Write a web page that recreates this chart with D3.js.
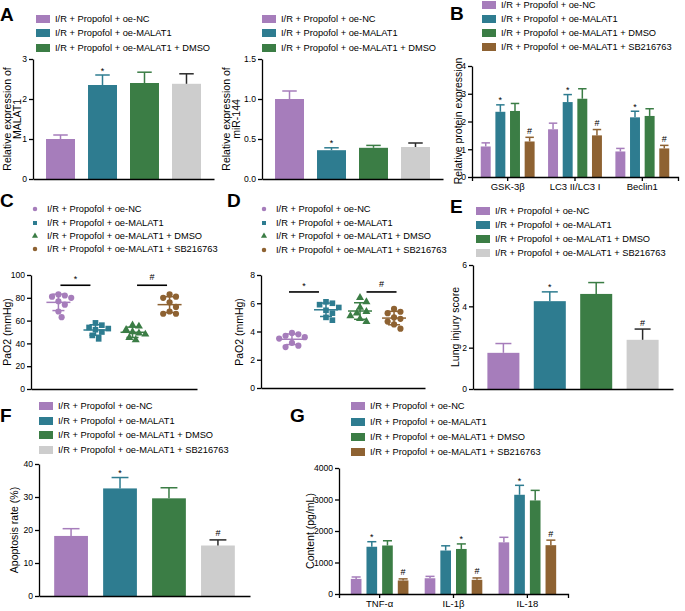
<!DOCTYPE html>
<html>
<head>
<meta charset="utf-8">
<script src="https://cdn.jsdelivr.net/npm/d3@7"></script>
<style>
  body { margin: 0; background: #fff; }
  svg { display: block; font-family: "Liberation Sans", Arial, sans-serif; }
</style>
</head>
<body>
<div id="fig"></div>
<script>
// ---------- data ----------
const groupNames = [
  "I/R + Propofol + oe-NC",
  "I/R + Propofol + oe-MALAT1",
  "I/R + Propofol + oe-MALAT1 + DMSO",
  "I/R + Propofol + oe-MALAT1 + SB216763"
];

// A: relative expression of MALAT1 / miR-144
const malat1Mean = [1.0, 2.35, 2.4, 2.38];
const malat1Err = [0.1, 0.25, 0.27, 0.25];
const malat1Sig = ["", "*", "", ""];
const mir144Mean = [1.0, 0.36, 0.39, 0.40];
const mir144Err = [0.1, 0.03, 0.03, 0.05];
const mir144Sig = ["", "*", "", ""];

// B: relative protein expression
const proteins = ["GSK-3\u03b2", "LC3 II/LC3 I", "Beclin1"];
const proteinMean = [[1.1, 2.35, 2.38, 1.28], [1.72, 2.7, 2.82, 1.5], [0.92, 2.15, 2.2, 1.03]];
const proteinErr = [[0.13, 0.25, 0.27, 0.15], [0.22, 0.27, 0.36, 0.21], [0.11, 0.22, 0.26, 0.11]];
const proteinSig = [["", "*", "", "#"], ["", "*", "", "#"], ["", "*", "", "#"]];

// C: PaO2 (mmHg), individual animals
const pao2C = [
  [83, 82, 81, 80, 77, 74, 68, 63],
  [58, 56, 54, 53, 52, 50, 47, 44],
  [56, 55, 52, 50, 49, 48, 45, 43],
  [83, 81, 80, 76, 72, 68, 66, 66]
];
// D: PaO2 panel D
const pao2D = [
  [3.9, 3.8, 3.7, 3.6, 3.5, 3.2, 3.0, 2.9],
  [6.1, 6.0, 5.9, 5.7, 5.5, 5.3, 5.0, 4.8],
  [6.4, 6.1, 5.7, 5.4, 5.3, 5.1, 4.9, 4.7],
  [5.6, 5.4, 5.3, 5.0, 4.9, 4.7, 4.5, 4.2]
];

// E: lung injury score
const injuryMean = [1.75, 4.25, 4.6, 2.38];
const injuryErr = [0.45, 0.45, 0.55, 0.52];
const injurySig = ["", "*", "", "#"];

// F: apoptosis rate (%)
const apopMean = [18.2, 32.6, 29.6, 15.3];
const apopErr = [2.2, 3.3, 3.2, 1.7];
const apopSig = ["", "*", "", "#"];

// G: cytokine content (pg/mL)
const cytokines = ["TNF-\u03b1", "IL-1\u03b2", "IL-18"];
const cytoMean = [[480, 1500, 1540, 430], [500, 1380, 1430, 450], [1640, 3150, 2970, 1550]];
const cytoErr = [[60, 160, 150, 50], [60, 150, 160, 60], [160, 300, 320, 160]];
const cytoSig = [["", "*", "", "#"], ["", "", "*", "#"], ["", "*", "", "#"]];

// ---------- colours ----------
const purple = "#a67dbb", teal = "#2e7c90", green = "#3b7d45", gray = "#cdcdcd", brown = "#8e6232";
const colGray = [purple, teal, green, gray];
const colBrown = [purple, teal, green, brown];
const errCol = c => c === gray ? "#2a2a2a" : c;

// ---------- svg ----------
const svg = d3.select("#fig").append("svg")
  .attr("width", 685).attr("height", 611);

const AXW = 1.3;

function styleAxis(sel) {
  sel.select(".domain").attr("stroke", "#000").attr("stroke-width", AXW);
  sel.selectAll(".tick line").attr("stroke", "#000").attr("stroke-width", AXW);
  sel.selectAll(".tick text").attr("fill", "#000").style("font-size", "8.6px")
    .style("font-family", "'Liberation Sans', Arial, sans-serif");
}

function drawYAxis(y, x0, ticks, fmt) {
  svg.append("g").attr("transform", `translate(${x0},0)`)
    .call(d3.axisLeft(y).tickValues(ticks).tickFormat(fmt).tickSize(4).tickSizeOuter(0).tickPadding(2))
    .call(styleAxis);
}

function drawXAxis(x, yBot, withTicks) {
  const ax = d3.axisBottom(x).tickSizeOuter(0).tickSize(withTicks ? 4 : 0).tickPadding(2);
  if (!withTicks) ax.tickValues([]);
  const g = svg.append("g").attr("transform", `translate(0,${yBot})`).call(ax).call(styleAxis);
  g.selectAll(".tick text").style("font-size", "9.5px");
}

function yTitle(lines, x, yc) {
  const t = svg.append("text")
    .attr("transform", `translate(${x},${yc}) rotate(-90)`)
    .attr("text-anchor", "middle")
    .style("font-size", "10.5px");
  lines.forEach((s, i) => {
    t.append("tspan").attr("x", 0).attr("dy", i === 0 ? `${0.35 - (lines.length - 1) * 0.5}em` : "1em").text(s);
  });
}

function panelLetter(s, x, y) {
  svg.append("text").attr("x", x).attr("y", y)
    .style("font-size", "19px").style("font-weight", "bold").text(s);
}

function legend(names, cols, x, rows, kind) {
  names.forEach((n, i) => {
    const cy = rows[i];
    if (kind === "rect") {
      svg.append("rect").attr("x", x).attr("y", cy - 4).attr("width", 14).attr("height", 8).attr("fill", cols[i]);
      svg.append("text").attr("x", x + 19).attr("y", cy).attr("dy", "0.35em")
        .style("font-size", "9.3px").text(n);
    } else {
      svg.append("path").attr("transform", `translate(${x},${cy})`)
        .attr("d", d3.symbol().type(kind[i]).size(16)()).attr("fill", cols[i]);
      svg.append("text").attr("x", x + 12).attr("y", cy).attr("dy", "0.35em")
        .style("font-size", "9.3px").text(n);
    }
  });
}

function sigMark(s, cx, yTopPx) {
  if (!s) return;
  svg.append("text").attr("x", cx).attr("y", s === "*" ? yTopPx - 1.5 : yTopPx - 3.5)
    .attr("text-anchor", "middle").style("font-size", "9px").text(s);
}

function drawBar(bx, bw, y, mean, err, fill, capW, sig) {
  svg.append("rect").attr("x", bx).attr("y", y(mean))
    .attr("width", bw).attr("height", y(0) - y(mean)).attr("fill", fill);
  const cx = bx + bw / 2, top = y(mean + err);
  const ec = errCol(fill);
  svg.append("line").attr("x1", cx).attr("x2", cx).attr("y1", y(mean)).attr("y2", top)
    .attr("stroke", ec).attr("stroke-width", 1.5);
  svg.append("line").attr("x1", cx - capW / 2).attr("x2", cx + capW / 2).attr("y1", top).attr("y2", top)
    .attr("stroke", ec).attr("stroke-width", 1.5);
  sigMark(sig, cx, top);
}

function simpleBars(p) {
  const y = d3.scaleLinear().domain([0, p.max]).range([p.yBot, p.yTop]);
  const x = d3.scaleBand().domain(d3.range(p.means.length)).range([p.x0, p.x1]).padding(0.31);
  p.means.forEach((m, i) => {
    drawBar(x(i), x.bandwidth(), y, m, p.errs[i], p.cols[i], x.bandwidth() * 0.5, p.sigs[i]);
  });
  drawYAxis(y, p.x0, p.ticks, p.fmt);
  drawXAxis(x, p.yBot, false);
}

function groupedBars(p) {
  const y = d3.scaleLinear().domain([0, p.max]).range([p.yBot, p.yTop]);
  const x = d3.scaleBand().domain(p.cats).range([p.x0, p.x1]).paddingInner(p.pi).paddingOuter(p.po);
  const xs = d3.scaleBand().domain(d3.range(4)).range([0, x.bandwidth()]).paddingInner(0.32);
  p.cats.forEach((c, ci) => {
    p.means[ci].forEach((m, i) => {
      drawBar(x(c) + xs(i), xs.bandwidth(), y, m, p.errs[ci][i], p.cols[i], xs.bandwidth() * 0.85, p.sigs[ci][i]);
    });
  });
  drawYAxis(y, p.x0, p.ticks, p.fmt);
  drawXAxis(x, p.yBot, true);
}

// simple swarm: spread points with nearly equal values sideways
function swarm(vals, y, cx, r) {
  const placed = [];
  return vals.map(v => {
    const py = y(v);
    let k = 0, px;
    for (;;) {
      const off = k === 0 ? 0 : Math.ceil(k / 2) * (k % 2 ? 1 : -1) * r;
      px = cx + off;
      if (placed.every(q => Math.hypot(q[0] - px, q[1] - py) >= 2 * r)) break;
      k++;
    }
    placed.push([px, py]);
    return [px, py];
  });
}

const shapes = [d3.symbolCircle, d3.symbolSquare, d3.symbolTriangle, d3.symbolCircle];
const shapeSize = [30, 32, 28, 30];

function scatterPanel(p) {
  const y = d3.scaleLinear().domain([0, p.max]).range([p.yBot, p.yTop]);
  const x = d3.scalePoint().domain(d3.range(4)).range([p.x0, p.x1]).padding(p.pad);
  p.data.forEach((vals, i) => {
    const cx = x(i), c = colBrown[i];
    const pts = swarm(vals, y, cx, 3.2);
    svg.append("g").selectAll("path").data(pts).join("path")
      .attr("transform", d => `translate(${d[0]},${d[1]})`)
      .attr("d", d3.symbol().type(shapes[i]).size(shapeSize[i])())
      .attr("fill", c);
    const m = d3.mean(vals), sd = d3.deviation(vals);
    const g = svg.append("g").attr("stroke", c).attr("stroke-width", 1.5);
    g.append("line").attr("x1", cx - 12).attr("x2", cx + 12).attr("y1", y(m)).attr("y2", y(m));
    g.append("line").attr("x1", cx).attr("x2", cx).attr("y1", y(m + sd)).attr("y2", y(m - sd));
    [m + sd, m - sd].forEach(v => g.append("line").attr("x1", cx - 6).attr("x2", cx + 6).attr("y1", y(v)).attr("y2", y(v)));
  });
  // significance brackets
  p.brackets.forEach(b => {
    const mid = (x(b.a) + x(b.b)) / 2 + b.shift, half = b.len / 2, yy = y(p.sigY);
    svg.append("line").attr("x1", mid - half).attr("x2", mid + half).attr("y1", yy).attr("y2", yy)
      .attr("stroke", "#000").attr("stroke-width", 1.6);
    svg.append("text").attr("x", mid).attr("y", b.s === "*" ? yy - 3 : yy - 5)
      .attr("text-anchor", "middle").style("font-size", "9px").text(b.s);
  });
  drawYAxis(y, p.x0, p.ticks, p.fmt);
  drawXAxis(x, p.yBot, false);
}

// ---------- panel A ----------
panelLetter("A", 0, 21);
legend(groupNames.slice(0, 3), colGray, 36, [19, 33, 48], "rect");
simpleBars({ x0: 33, x1: 214, yTop: 59, yBot: 179, max: 3, ticks: [0, 1, 2, 3], fmt: d3.format("d"),
  means: malat1Mean, errs: malat1Err, sigs: malat1Sig, cols: colGray });
yTitle(["Relative expression of", "MALAT1"], 12.5, 119);

legend(groupNames.slice(0, 3), colGray, 262, [19, 33, 48], "rect");
simpleBars({ x0: 262, x1: 443, yTop: 59, yBot: 179, max: 1.5, ticks: [0, 0.5, 1, 1.5], fmt: d3.format(".1f"),
  means: mir144Mean, errs: mir144Err, sigs: mir144Sig, cols: colGray });
yTitle(["Relative expression of", "miR-144"], 231.5, 119);

// ---------- panel B ----------
panelLetter("B", 450, 20);
legend(groupNames, colBrown, 482, [5, 19, 33, 47], "rect");
groupedBars({ x0: 472, x1: 678, yTop: 66, yBot: 177, max: 4, ticks: [0, 1, 2, 3, 4], fmt: d3.format("d"),
  cats: proteins, means: proteinMean, errs: proteinErr, sigs: proteinSig, cols: colBrown, pi: 0.2, po: 0.13 });
yTitle(["Relative protein expression"], 458.5, 121);

// ---------- panel C ----------
panelLetter("C", 0, 207);
legend(groupNames, colBrown, 35, [209, 223, 236, 249], shapes);
scatterPanel({ x0: 31, x1: 197, yTop: 275, yBot: 389, max: 100, ticks: [0, 20, 40, 60, 80, 100], fmt: d3.format("d"),
  data: pao2C, pad: 0.74, sigY: 91,
  brackets: [{ a: 0, b: 1, s: "*", len: 30, shift: -1.5 }, { a: 2, b: 3, s: "#", len: 30, shift: 1 }] });
yTitle(["PaO2 (mmHg)"], 7.5, 332);

// ---------- panel D ----------
panelLetter("D", 227, 207);
legend(groupNames, colBrown, 264, [209, 223, 236, 250], shapes);
scatterPanel({ x0: 261, x1: 425, yTop: 275, yBot: 388, max: 8, ticks: [0, 2, 4, 6, 8], fmt: d3.format("d"),
  data: pao2D, pad: 0.91, sigY: 6.8,
  brackets: [{ a: 0, b: 1, s: "*", len: 30, shift: -5 }, { a: 2, b: 3, s: "#", len: 30, shift: 4.5 }] });
yTitle(["PaO2 (mmHg)"], 239.5, 332);

// ---------- panel E ----------
panelLetter("E", 450, 213);
legend(groupNames, colGray, 476, [211, 225, 239, 253], "rect");
simpleBars({ x0: 473, x1: 673, yTop: 265, yBot: 389, max: 6, ticks: [0, 2, 4, 6], fmt: d3.format("d"),
  means: injuryMean, errs: injuryErr, sigs: injurySig, cols: colGray });
yTitle(["Lung injury score"], 455, 327);

// ---------- panel F ----------
panelLetter("F", 0, 422);
legend(groupNames, colGray, 39, [406, 421, 435, 450], "rect");
simpleBars({ x0: 39, x1: 250, yTop: 464, yBot: 596, max: 40, ticks: [0, 10, 20, 30, 40], fmt: d3.format("d"),
  means: apopMean, errs: apopErr, sigs: apopSig, cols: colGray });
yTitle(["Apoptosis rate (%)"], 14.5, 530);

// ---------- panel G ----------
panelLetter("G", 290, 422);
legend(groupNames, colBrown, 351, [406, 422, 437, 452], "rect");
groupedBars({ x0: 339, x1: 568, yTop: 468, yBot: 594, max: 4000, ticks: [0, 1000, 2000, 3000, 4000], fmt: d3.format("d"),
  cats: cytokines, means: cytoMean, errs: cytoErr, sigs: cytoSig, cols: colBrown, pi: 0.22, po: 0.16 });
yTitle(["Content (pg/mL)"], 310.5, 531);
</script>
</body>
</html>
